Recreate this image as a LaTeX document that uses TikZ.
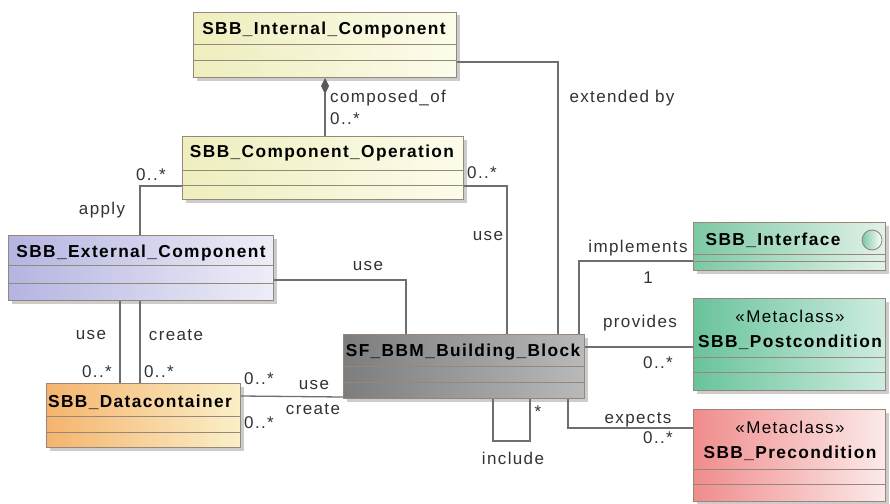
\documentclass[tikz,border=0pt]{standalone}
\usepackage{fontspec}
\setmainfont{Liberation Sans}[LetterSpace=8]
\usetikzlibrary{calc,shadows,arrows.meta}

\definecolor{boxline}{RGB}{150,135,120}
\definecolor{connline}{RGB}{110,110,110}
\definecolor{labeltext}{RGB}{50,50,50}
\definecolor{intA}{RGB}{238,238,190}
\definecolor{intB}{RGB}{252,252,236}
\definecolor{extA}{RGB}{180,180,225}
\definecolor{extB}{RGB}{238,238,248}
\definecolor{dataA}{RGB}{245,180,110}
\definecolor{dataB}{RGB}{250,240,200}
\definecolor{bbmA}{RGB}{125,125,125}
\definecolor{bbmB}{RGB}{185,185,185}
\definecolor{ifcA}{RGB}{125,200,165}
\definecolor{ifcB}{RGB}{225,242,232}
\definecolor{postA}{RGB}{105,195,155}
\definecolor{postB}{RGB}{205,236,224}
\definecolor{preA}{RGB}{240,140,140}
\definecolor{preB}{RGB}{252,234,234}

\begin{document}
\begin{tikzpicture}[x=1pt,y=-1pt,
    classbox/.style={draw=boxline,line width=1pt,anchor=north west,inner sep=0pt,
        drop shadow={shadow xshift=3pt,shadow yshift=-3pt,fill=black!40}},
    compline/.style={draw=boxline,line width=0.9pt},
    classname/.style={font=\fontsize{17.3}{19}\selectfont\bfseries,inner sep=0pt},
    lbl/.style={font=\fontsize{17}{19}\selectfont,text=labeltext,inner sep=0pt},
    assoc/.style={draw=connline,line width=1.3pt}]
    \useasboundingbox (0,0) rectangle (890,503);

    % classes
    \node[classbox,left color=intA,right color=intB,minimum width=263pt,minimum height=65pt] (internal) at (193,12) {};
    \node[classname] (internal-t) at (324,30) {SBB\_Internal\_Component};
    \draw[compline] ($(internal.north west)+(0,32)$) -- ++(263,0) ($(internal.north west)+(0,48)$) -- ++(263,0);

    \node[classbox,left color=intA,right color=intB,minimum width=281pt,minimum height=63pt] (compop) at (182,136) {};
    \node[classname] (compop-t) at (322,153) {SBB\_Component\_Operation};
    \draw[compline] ($(compop.north west)+(0,34)$) -- ++(281,0) ($(compop.north west)+(0,49)$) -- ++(281,0);

    \node[classbox,left color=extA,right color=extB,minimum width=265pt,minimum height=65pt] (extcomp) at (8,235) {};
    \node[classname] (extcomp-t) at (141,253) {SBB\_External\_Component};
    \draw[compline] ($(extcomp.north west)+(0,30)$) -- ++(265,0) ($(extcomp.north west)+(0,48)$) -- ++(265,0);

    \node[classbox,left color=dataA,right color=dataB,minimum width=194pt,minimum height=64pt] (datacont) at (46,383) {};
    \node[classname] (datacont-t) at (140,402) {SBB\_Datacontainer};
    \draw[compline] ($(datacont.north west)+(0,33)$) -- ++(194,0) ($(datacont.north west)+(0,49)$) -- ++(194,0);

    \node[classbox,left color=bbmA,right color=bbmB,minimum width=241pt,minimum height=64pt] (bbm) at (343,334) {};
    \node[classname] (bbm-t) at (463,352) {SF\_BBM\_Building\_Block};
    \draw[compline] ($(bbm.north west)+(0,32)$) -- ++(241,0) ($(bbm.north west)+(0,48)$) -- ++(241,0);

    \node[classbox,left color=ifcA,right color=ifcB,minimum width=192pt,minimum height=48pt] (iface) at (693,222) {};
    \node[classname] (iface-t) at (773,240) {SBB\_Interface};
    \node[circle,draw=boxline,line width=0.9pt,left color=ifcA,right color=white,minimum size=20pt,inner sep=0pt] (iface-c) at (872,240) {};
    \draw[compline] ($(iface.north west)+(0,32)$) -- ++(192,0) ($(iface.north west)+(0,39)$) -- ++(192,0);

    \node[classbox,left color=postA,right color=postB,minimum width=192pt,minimum height=92pt] (post) at (693,298) {};
    \node[lbl,text=black] (post-s) at (790,316) {«Metaclass»};
    \node[classname] (post-t) at (790,342) {SBB\_Postcondition};
    \draw[compline] ($(post.north west)+(0,59)$) -- ++(192,0) ($(post.north west)+(0,74)$) -- ++(192,0);

    \node[classbox,left color=preA,right color=preB,minimum width=192pt,minimum height=92pt] (pre) at (693,409) {};
    \node[lbl,text=black] (pre-s) at (790,427) {«Metaclass»};
    \node[classname] (pre-t) at (790,453) {SBB\_Precondition};
    \draw[compline] ($(pre.north west)+(0,60)$) -- ++(192,0) ($(pre.north west)+(0,75)$) -- ++(192,0);

    % connectors
    \draw[assoc,{Diamond[length=16pt,width=8pt,fill=black!65,color=black!65]}-] (internal.south) -- (internal.south |- compop.north);
    \draw[assoc] ($(internal.north east)+(0,50)$) -| ($(bbm.north west)+(215,0)$);
    \draw[assoc] ($(compop.north west)+(0,50)$) -| ($(extcomp.north west)+(132,0)$);
    \draw[assoc] ($(compop.north east)+(0,50)$) -| ($(bbm.north west)+(164,0)$);
    \draw[assoc] ($(extcomp.north east)+(0,45)$) -| ($(bbm.north west)+(63,0)$);
    \draw[assoc] ($(extcomp.south west)+(112,0)$) -- ($(datacont.north west)+(74,0)$);
    \draw[assoc] ($(extcomp.south west)+(132,0)$) -- ($(datacont.north west)+(94,0)$);
    \draw[assoc] ($(datacont.north east)+(0,13)$) -- ($(bbm.south west)+(0,-2)$);
    \draw[assoc] ($(bbm.south west)+(150,0)$) -- ++(0,42) -| ($(bbm.south west)+(187,0)$);
    \draw[assoc] ($(bbm.north west)+(236,0)$) |- ($(iface.north west)+(0,39)$);
    \draw[assoc] ($(bbm.north east)+(0,13)$) -- ($(post.north west)+(0,49)$);
    \draw[assoc] ($(bbm.south east)+(-17,0)$) |- ($(pre.north west)+(0,19)$);

    % labels
    \node[lbl,anchor=west] (l-comp) at (330,98) {composed\_of};
    \node[lbl,anchor=west] (l-comp-m) at (330,119) {0..*};
    \node[lbl] (l-ext) at (622,98) {extended by};
    \node[lbl] (l-apply-m) at (151,175) {0..*};
    \node[lbl] (l-apply) at (102,210) {apply};
    \node[lbl] (l-opuse-m) at (482,173) {0..*};
    \node[lbl] (l-opuse) at (488,236) {use};
    \node[lbl] (l-extuse) at (368,266) {use};
    \node[lbl] (l-dcuse) at (91,335) {use};
    \node[lbl] (l-dccreate) at (176,335) {create};
    \node[lbl] (l-dcuse-m) at (97,372) {0..*};
    \node[lbl] (l-dccreate-m) at (159,372) {0..*};
    \node[lbl] (l-bbuse-m) at (259,379) {0..*};
    \node[lbl] (l-bbuse) at (314,385) {use};
    \node[lbl] (l-bbcreate) at (313,409) {create};
    \node[lbl] (l-bbcreate-m) at (259,423) {0..*};
    \node[lbl] (l-incl-m) at (538,412) {*};
    \node[lbl] (l-incl) at (513,458) {include};
    \node[lbl] (l-impl) at (638,248) {implements};
    \node[lbl] (l-impl-m) at (648,278) {1};
    \node[lbl] (l-prov) at (640,323) {provides};
    \node[lbl] (l-prov-m) at (658,363) {0..*};
    \node[lbl] (l-exp) at (638,420) {expects};
    \node[lbl] (l-exp-m) at (658,438) {0..*};
\end{tikzpicture}
\end{document}
